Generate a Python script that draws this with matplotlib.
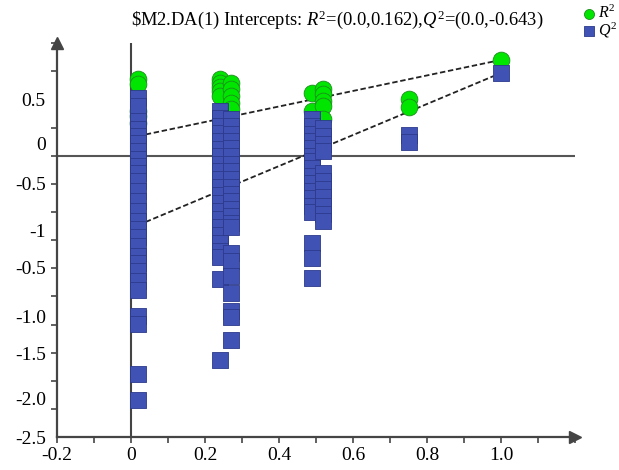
import numpy as np
import matplotlib
matplotlib.use("Agg")
import matplotlib.pyplot as plt
from matplotlib.ticker import MultipleLocator

plt.rcParams['font.family'] = ['Liberation Serif', 'DejaVu Serif']
plt.rcParams['mathtext.fontset'] = 'custom'
plt.rcParams['mathtext.rm'] = 'Liberation Serif'
plt.rcParams['mathtext.it'] = 'Liberation Serif:italic'

# permutation columns (x = correlation of permuted y with original y)
col_x = [0.02, 0.24, 0.27, 0.49, 0.52, 0.75, 1.0]

r2_cols = [
    [0.683, 0.639, 0.399, 0.355, 0.293],
    [0.683, 0.648, 0.612, 0.577, 0.532],
    [0.648, 0.594, 0.532, 0.470, 0.417],
    [0.559, 0.399],
    [0.594, 0.550, 0.488, 0.444, 0.328],
    [0.506, 0.435],
    [0.852],
]

q2_cols = [
    [0.515, 0.444, 0.311, 0.240, 0.177, 0.115, 0.044, -0.027, -0.089, -0.151,
     -0.222, -0.311, -0.399, -0.488, -0.577, -0.648, -0.719, -0.799, -0.887,
     -0.949, -1.020, -1.109, -1.189, -1.420, -1.491, -1.943, -2.174],
    [0.399, 0.337, 0.266, 0.204, 0.133, 0.062, 0.0, -0.071, -0.133, -0.204,
     -0.275, -0.346, -0.417, -0.488, -0.559, -0.630, -0.701, -0.772, -0.843,
     -0.896, -1.091, -1.819],
    [0.328, 0.266, 0.195, 0.133, 0.071, 0.0, -0.071, -0.133, -0.204, -0.275,
     -0.337, -0.399, -0.470, -0.532, -0.594, -0.630, -0.861, -0.932, -1.065,
     -1.216, -1.375, -1.429, -1.633],
    [0.328, 0.266, 0.195, 0.133, 0.071, 0.0, -0.044, -0.106, -0.177, -0.240,
     -0.311, -0.373, -0.444, -0.497, -0.772, -0.905, -1.083],
    [0.248, 0.177, 0.106, 0.044, -0.151, -0.222, -0.293, -0.364, -0.444,
     -0.515, -0.577],
    [0.186, 0.124],
    [0.736],
]

r2_intercept = 0.162
q2_intercept = -0.643

x_tick_pos = [-0.2, 0.0, 0.2, 0.4, 0.6, 0.8, 1.0]
x_tick_lab = ['-0.2', '0', '0.2', '0.4', '0.6', '0.8', '1.0']
# y labels as printed on the original figure
y_lab_pos = [0.5, 0.106, -0.248, -0.665, -0.99, -1.43, -1.76, -2.16, -2.5]
y_lab_txt = ['0.5', '0', '-0.5', '-1', '-0.5', '-1.0', '-1.5', '-2.0', '-2.5']

GREEN = '#00e600'
GREEN_EDGE = '#1d8c1d'
BLUE = '#4052b4'
BLUE_EDGE = '#2c3a8c'
AXC = '#454545'

fig = plt.figure(figsize=(6.19, 4.70), dpi=100)
ax = fig.add_axes([0.092, 0.070, 0.837, 0.838])

xr = np.concatenate([[x] * len(v) for x, v in zip(col_x, r2_cols)])
yr = np.concatenate(r2_cols)
xq = np.concatenate([[x] * len(v) for x, v in zip(col_x, q2_cols)])
yq = np.concatenate(q2_cols)

# regression lines through intercepts and the original model
r2_orig = r2_cols[-1][0]
q2_orig = q2_cols[-1][0]
lx = np.array([0.04, 0.98])
ax.plot(lx, r2_intercept + (r2_orig - r2_intercept) * lx, color='#222222',
        ls=(0, (3, 1.5)), lw=1.3, zorder=2)
ax.plot(lx, q2_intercept + (q2_orig - q2_intercept) * lx, color='#222222',
        ls=(0, (3, 1.5)), lw=1.3, zorder=2)

g = ax.scatter(xr, yr, s=145, marker='o', color=GREEN, edgecolors=GREEN_EDGE,
               linewidths=0.6, zorder=3)
b = ax.scatter(xq, yq, s=125, marker='s', color=BLUE, edgecolors=BLUE_EDGE,
               linewidths=0.6, zorder=4)

ax.axhline(0, color='#555555', lw=1.5, zorder=1)
ax.axvline(0, color='#444444', lw=1.5, zorder=1)

ax.set_xlim(-0.2, 1.2)
ax.set_ylim(-2.5, 1.0)

for s in ['top', 'right']:
    ax.spines[s].set_visible(False)
for s in ['left', 'bottom']:
    ax.spines[s].set_color(AXC)
    ax.spines[s].set_linewidth(1.6)
ax.plot(1, 0, '>', color=AXC, ms=9, transform=ax.transAxes, clip_on=False)
ax.plot(0, 1, '^', color=AXC, ms=9, transform=ax.transAxes, clip_on=False)

ax.set_xticks(x_tick_pos, x_tick_lab)
ax.xaxis.set_minor_locator(MultipleLocator(0.1))
ax.tick_params(axis='x', which='both', length=4, width=1.2, color=AXC,
               labelsize=14, pad=3)
ax.set_yticks(y_lab_pos, y_lab_txt)
ax.yaxis.set_minor_locator(MultipleLocator(0.25))
ax.tick_params(axis='y', which='major', length=0, labelsize=14, pad=8)
ax.tick_params(axis='y', which='minor', length=4, width=1.2, color=AXC)

fig.text(0.545, 0.958,
         r'\$M2.DA(1) Intercepts: $R^2$=(0.0,0.162),$Q^2$=(0.0,-0.643)',
         ha='center', va='center', fontsize=13.3)

fig.legend(handles=[g, b], labels=['$R^2$', '$Q^2$'], loc='upper right',
           bbox_to_anchor=(0.998, 0.99), frameon=False, markerscale=0.6,
           handlelength=0.5, handletextpad=0.3, labelspacing=-0.1,
           borderaxespad=0, borderpad=0, fontsize=11.5)

fig.savefig('out.png', dpi=100, facecolor='white')
